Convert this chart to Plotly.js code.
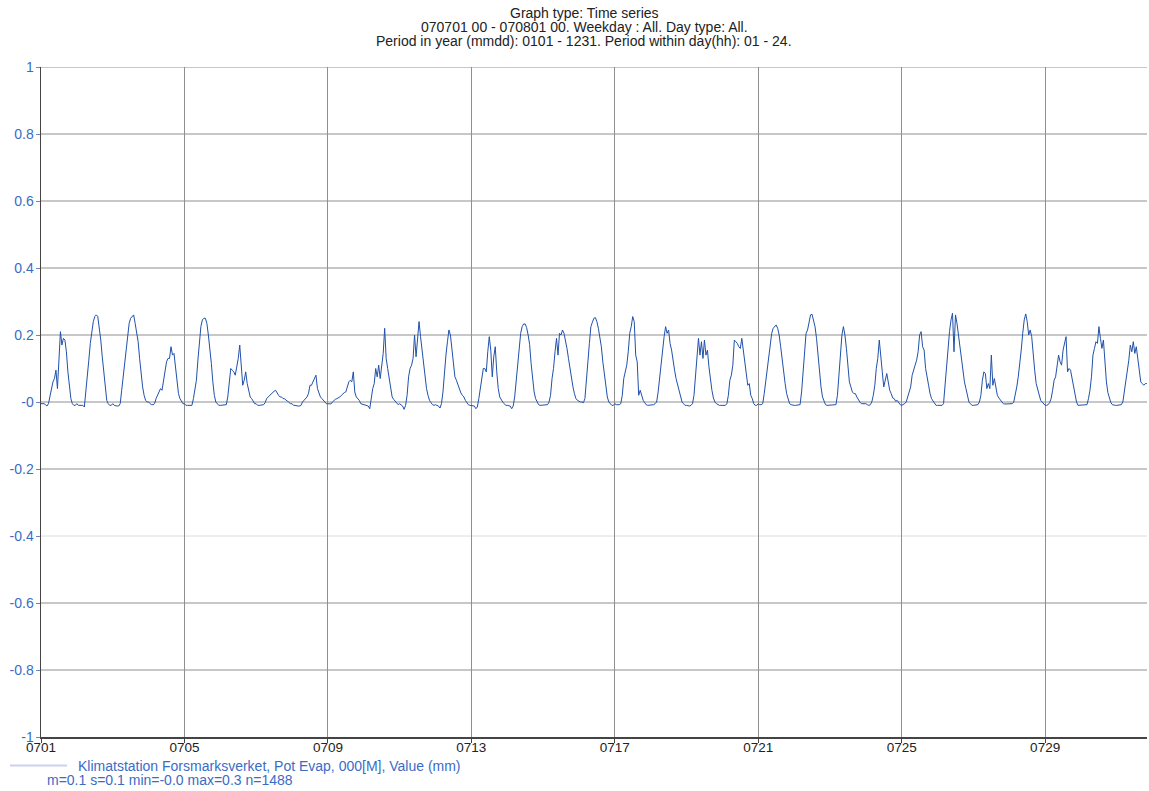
<!DOCTYPE html>
<html>
<head>
<meta charset="utf-8">
<script src="https://cdn.plot.ly/plotly-3.0.1.min.js"></script>
<style>
  html, body { margin: 0; padding: 0; background: #ffffff; }
  #chart { width: 1149px; height: 791px; }
</style>
</head>
<body>
<div id="chart"></div>
<script>
// Hourly potential evaporation (mm), one array per day of July 2007, hours 00..23
const d0701 = [-0.005,-0.005,-0.005,-0.008,-0.012,-0.005,0.02,0.045,0.06,0.07,0.095,0.04,0.14,0.21,0.17,0.19,0.185,0.15,0.09,0.04,0.01,-0.005,-0.01,-0.01];
const d0702 = [-0.005,-0.01,-0.01,-0.01,-0.01,-0.015,0.04,0.09,0.125,0.175,0.21,0.24,0.255,0.26,0.255,0.225,0.185,0.135,0.085,0.035,0.005,-0.005,-0.01,-0.01];
const d0703 = [-0.005,-0.01,-0.012,-0.012,-0.012,-0.005,0.035,0.075,0.115,0.165,0.2,0.235,0.25,0.255,0.26,0.235,0.21,0.18,0.13,0.085,0.045,0.02,0.005,0.0];
const d0704 = [0.0,-0.005,-0.008,-0.008,-0.005,0.01,0.02,0.03,0.04,0.035,0.06,0.09,0.12,0.13,0.13,0.165,0.14,0.145,0.1,0.055,0.025,0.01,0.0,-0.005];
const d0705 = [-0.005,-0.01,-0.01,-0.01,-0.01,-0.01,0.01,0.035,0.065,0.125,0.18,0.225,0.245,0.25,0.25,0.235,0.2,0.165,0.115,0.06,0.02,0.0,-0.005,-0.01];
const d0706 = [-0.01,-0.01,-0.01,-0.01,-0.008,0.015,0.055,0.1,0.095,0.09,0.08,0.1,0.13,0.17,0.1,0.05,0.065,0.09,0.055,0.03,0.015,0.01,0.002,-0.005];
const d0707 = [-0.005,-0.01,-0.01,-0.01,-0.01,-0.008,-0.002,0.01,0.015,0.02,0.025,0.028,0.032,0.035,0.025,0.02,0.015,0.015,0.01,0.01,0.005,0.003,-0.002,-0.005];
const d0708 = [-0.005,-0.01,-0.01,-0.012,-0.012,-0.012,-0.01,0.0,0.005,0.01,0.015,0.025,0.05,0.05,0.06,0.065,0.08,0.04,0.025,0.015,0.01,0.005,0.0,-0.005];
const d0709 = [-0.005,-0.006,-0.006,0.0,0.005,0.008,0.01,0.012,0.015,0.02,0.025,0.028,0.03,0.045,0.06,0.065,0.06,0.09,0.03,0.015,0.01,0.005,-0.005,-0.006];
const d0710 = [-0.008,-0.01,-0.01,-0.012,-0.02,0.015,0.04,0.055,0.1,0.075,0.11,0.07,0.1,0.145,0.22,0.13,0.1,0.07,0.035,0.015,0.008,0.003,-0.005,-0.008];
const d0711 = [-0.005,-0.01,-0.012,-0.022,-0.01,0.02,0.075,0.1,0.11,0.13,0.2,0.135,0.195,0.24,0.195,0.155,0.11,0.075,0.04,0.02,0.005,-0.002,-0.008,-0.01];
const d0712 = [-0.008,-0.01,-0.012,-0.018,-0.005,0.03,0.09,0.14,0.18,0.215,0.2,0.155,0.105,0.075,0.065,0.05,0.035,0.027,0.02,0.015,0.005,-0.002,-0.008,-0.01];
const d0713 = [-0.01,-0.01,-0.012,-0.02,-0.015,0.01,0.045,0.07,0.1,0.1,0.09,0.15,0.195,0.155,0.075,0.135,0.165,0.09,0.04,0.015,0.005,0.0,-0.005,-0.01];
const d0714 = [-0.01,-0.01,-0.012,-0.02,-0.012,0.015,0.065,0.1,0.17,0.205,0.225,0.233,0.233,0.222,0.2,0.172,0.115,0.07,0.03,0.01,0.0,-0.008,-0.01,-0.01];
const d0715 = [-0.01,-0.01,-0.01,-0.008,0.0,0.02,0.07,0.1,0.15,0.19,0.14,0.205,0.2,0.215,0.205,0.185,0.16,0.13,0.1,0.065,0.045,0.025,0.01,0.005];
const d0716 = [0.002,0.0,0.0,-0.002,0.01,0.055,0.12,0.175,0.225,0.238,0.25,0.252,0.24,0.22,0.195,0.165,0.12,0.08,0.04,0.015,0.0,-0.005,-0.01,-0.01];
const d0717 = [-0.005,-0.008,-0.008,-0.008,-0.005,0.02,0.07,0.09,0.11,0.15,0.205,0.225,0.255,0.24,0.14,0.12,0.02,0.035,0.015,0.005,-0.002,-0.008,-0.01,-0.01];
const d0718 = [-0.01,-0.01,-0.008,-0.005,0.0,0.03,0.075,0.125,0.15,0.195,0.225,0.205,0.215,0.175,0.155,0.12,0.095,0.07,0.05,0.03,0.01,0.0,-0.005,-0.01];
const d0719 = [-0.01,-0.012,-0.012,-0.01,-0.005,0.02,0.07,0.12,0.19,0.14,0.18,0.13,0.185,0.14,0.155,0.105,0.065,0.035,0.012,0.0,-0.005,-0.008,-0.01,-0.01];
const d0720 = [-0.01,-0.01,-0.01,-0.005,0.02,0.065,0.08,0.11,0.185,0.18,0.175,0.165,0.16,0.19,0.155,0.125,0.095,0.05,0.055,0.02,0.01,-0.005,-0.01,-0.01];
const d0721 = [-0.005,-0.008,-0.008,-0.005,0.025,0.06,0.095,0.145,0.175,0.205,0.22,0.227,0.23,0.22,0.2,0.165,0.125,0.09,0.055,0.025,0.005,-0.005,-0.008,-0.01];
const d0722 = [-0.01,-0.01,-0.01,-0.01,-0.008,0.03,0.09,0.16,0.205,0.215,0.24,0.26,0.262,0.245,0.225,0.19,0.135,0.085,0.045,0.015,0.0,-0.008,-0.01,-0.01];
const d0723 = [-0.01,-0.01,-0.01,-0.01,-0.008,0.02,0.08,0.155,0.2,0.225,0.2,0.16,0.12,0.06,0.045,0.03,0.025,0.025,0.015,0.005,0.0,-0.005,-0.005,-0.005];
const d0724 = [-0.005,-0.008,-0.01,-0.008,0.0,0.02,0.05,0.1,0.13,0.185,0.125,0.09,0.045,0.065,0.085,0.06,0.035,0.025,0.012,0.01,0.002,0.005,-0.002,-0.008];
const d0725 = [-0.01,-0.008,-0.005,0.0,0.015,0.035,0.045,0.08,0.1,0.11,0.125,0.15,0.2,0.21,0.165,0.155,0.1,0.08,0.05,0.025,0.01,0.003,-0.005,-0.01];
const d0726 = [-0.01,-0.01,-0.01,-0.01,-0.005,0.05,0.1,0.165,0.21,0.245,0.265,0.15,0.26,0.235,0.2,0.155,0.115,0.08,0.06,0.04,0.015,0.0,-0.005,-0.01];
const d0727 = [-0.01,-0.01,-0.01,-0.008,0.0,0.02,0.065,0.09,0.085,0.04,0.055,0.04,0.14,0.05,0.07,0.04,0.02,0.012,0.005,0.0,-0.005,-0.006,-0.006,-0.006];
const d0728 = [-0.005,-0.005,-0.005,0.0,0.02,0.045,0.075,0.11,0.155,0.205,0.245,0.263,0.24,0.2,0.215,0.195,0.135,0.095,0.055,0.04,0.02,0.005,0.0,-0.005];
const d0729 = [-0.01,-0.01,-0.008,-0.002,0.01,0.035,0.065,0.075,0.105,0.14,0.12,0.11,0.155,0.18,0.195,0.09,0.1,0.095,0.07,0.04,0.015,0.0,-0.01,-0.01];
const d0730 = [-0.01,-0.01,-0.01,-0.01,-0.008,0.01,0.035,0.075,0.14,0.16,0.18,0.175,0.225,0.19,0.16,0.185,0.12,0.06,0.028,0.01,-0.002,-0.008,-0.01,-0.01];
const d0731 = [-0.01,-0.01,-0.01,-0.008,0.0,0.03,0.06,0.085,0.125,0.17,0.15,0.18,0.145,0.165,0.13,0.095,0.06,0.055,0.05,0.055,0.055,0.05];

const dailySeries = [d0701,d0702,d0703,d0704,d0705,d0706,d0707,d0708,d0709,d0710,
  d0711,d0712,d0713,d0714,d0715,d0716,d0717,d0718,d0719,d0720,
  d0721,d0722,d0723,d0724,d0725,d0726,d0727,d0728,d0729,d0730,d0731];

const yTickVals = [-1, -0.8, -0.6, -0.4, -0.2, 0, 0.2, 0.4, 0.6, 0.8, 1];
const yTickText = ['-1', '-0.8', '-0.6', '-0.4', '-0.2', '-0', '0.2', '0.4', '0.6', '0.8', '1'];
// Horizontal grid levels; the -0.4 level is drawn in a pale tone
const gridLevels = [-0.8, -0.6, -0.4, -0.2, 0, 0.2, 0.4, 0.6, 0.8, 1];
const paleGridLevels = [-0.4];

const titleLines = [
  'Graph type: Time series',
  '070701 00 - 070801 00. Weekday : All. Day type: All.',
  'Period in year (mmdd): 0101 - 1231. Period within day(hh): 01 - 24.'
];
const seriesName = 'Klimatstation Forsmarksverket, Pot Evap, 000[M], Value (mm)';
const seriesStats = 'm=0.1 s=0.1 min=-0.0 max=0.3 n=1488';

// Flatten the daily arrays into one timestamped series
const pad = n => String(n).padStart(2, '0');
const xs = [], ys = [];
dailySeries.forEach((vals, d) => {
  vals.forEach((v, h) => {
    xs.push('2007-07-' + pad(d + 1) + ' ' + pad(h) + ':00');
    ys.push(v);
  });
});

const FONT = 'Liberation Sans, Arial, sans-serif';
const BLUE_TEXT = '#3a6cc6';
const LINE_BLUE = '#2051aa';
const GRID = '#8f8f8f';
const GRID_PALE = '#dcdcdc';

const trace = {
  x: xs, y: ys, type: 'scatter', mode: 'lines',
  line: { color: LINE_BLUE, width: 1 },
  hoverinfo: 'x+y', showlegend: false
};

const titleY = [1.0813, 1.0597, 1.0381];
const annotations = titleLines.map((t, i) => ({
  text: t, xref: 'paper', yref: 'paper', x: 0.491, y: titleY[i],
  xanchor: 'center', yanchor: 'middle', showarrow: false,
  font: { family: FONT, size: 14, color: '#222222' }
}));
annotations.push({
  text: seriesName, xref: 'paper', yref: 'paper', x: 0.0316, y: -0.0428,
  xanchor: 'left', yanchor: 'middle', showarrow: false,
  font: { family: FONT, size: 14, color: BLUE_TEXT }
});
annotations.push({
  text: seriesStats, xref: 'paper', yref: 'paper', x: 0.0036, y: -0.0645,
  xanchor: 'left', yanchor: 'middle', showarrow: false,
  font: { family: FONT, size: 14, color: BLUE_TEXT }
});

const shapes = gridLevels.map(v => ({
  type: 'line', xref: 'paper', yref: 'y', x0: 0, x1: 1, y0: v, y1: v,
  layer: 'below',
  line: { color: paleGridLevels.includes(v) ? GRID_PALE : GRID, width: 1 }
}));
shapes.push({
  type: 'line', xref: 'paper', yref: 'paper',
  x0: -0.028, x1: 0.0235, y0: -0.0425, y1: -0.0425,
  line: { color: '#c9d2ee', width: 2 }
});

const layout = {
  width: 1149, height: 791,
  margin: { l: 41, r: 2, t: 67, b: 54 },
  paper_bgcolor: '#ffffff', plot_bgcolor: '#ffffff',
  font: { family: FONT },
  xaxis: {
    type: 'date',
    range: ['2007-07-01 00:00', '2007-07-31 20:10'],
    tick0: '2007-07-01', dtick: 4 * 86400000,
    tickformat: '%m%d',
    showgrid: true, gridcolor: GRID, gridwidth: 1,
    zeroline: false,
    showline: true, linecolor: '#444444', linewidth: 1.5,
    ticks: 'outside', ticklen: 4, tickcolor: '#444444',
    ticklabelstandoff: -7,
    tickfont: { family: FONT, size: 13.5, color: '#222222' },
    fixedrange: true
  },
  yaxis: {
    range: [-1, 1],
    tickvals: yTickVals, ticktext: yTickText,
    showgrid: false,
    zeroline: false,
    showline: true, linecolor: '#444444', linewidth: 1.5,
    ticks: 'outside', ticklen: 4, tickcolor: '#6a86c0',
    ticklabelstandoff: -1,
    tickfont: { family: FONT, size: 14, color: BLUE_TEXT },
    fixedrange: true
  },
  shapes: shapes,
  annotations: annotations
};

Plotly.newPlot('chart', [trace], layout, { displayModeBar: false, staticPlot: true });
</script>
</body>
</html>
